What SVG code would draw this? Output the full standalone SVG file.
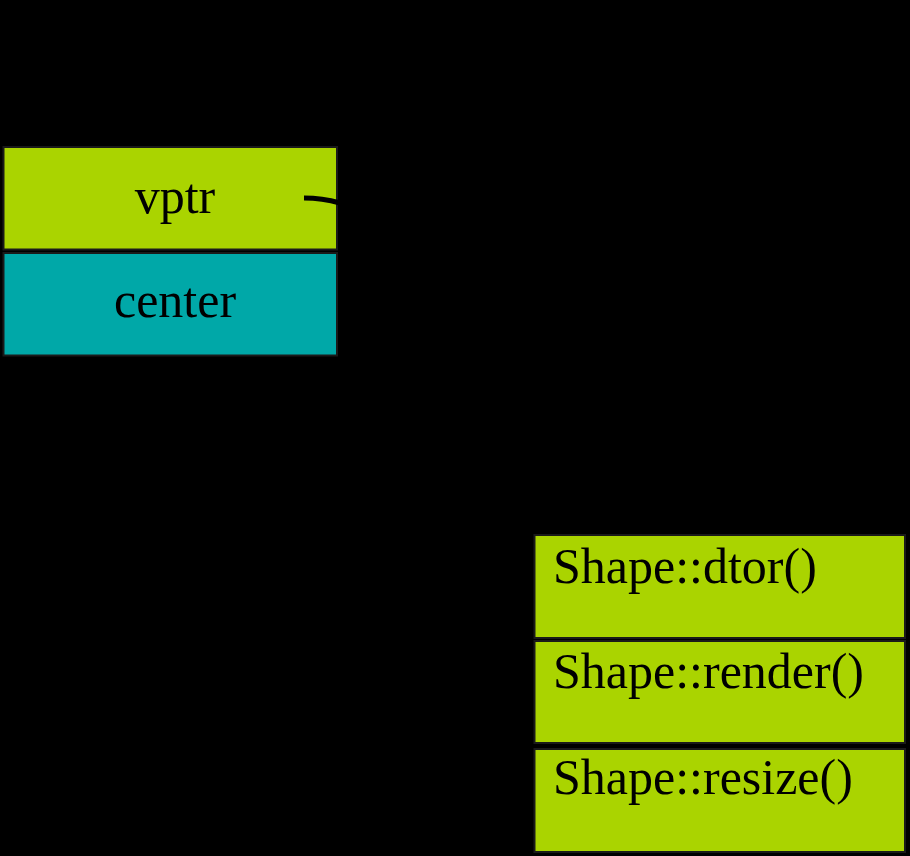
<svg xmlns="http://www.w3.org/2000/svg" width="910" height="856" viewBox="0 0 910 856">
<style>
.g{fill:#aad400;stroke:#1a1a1a;stroke-width:2}
.t{fill:#00a8a8;stroke:#1a1a1a;stroke-width:2}
text{font-family:"Liberation Serif","Times New Roman",serif;font-size:50px;fill:#000}
.c{text-anchor:middle}
</style>
<rect width="910" height="856" fill="#000"/>
<g id="vptr"><rect class="g" x="3.5" y="147" width="333.5" height="102.5"/><text class="c" x="175" y="213">vptr</text></g>
<g id="center"><rect class="t" x="3.5" y="253" width="333.5" height="102.5"/><text class="c" x="175" y="317">center</text></g>
<g id="dtor"><rect class="g" x="534.5" y="535" width="370.5" height="103"/><text x="553" y="583">Shape::dtor()</text></g>
<g id="render"><rect class="g" x="534.5" y="641" width="370.5" height="102"/><text x="553" y="688">Shape::render()</text></g>
<g id="resize"><rect class="g" x="534.5" y="749" width="370.5" height="103"/><text x="553" y="794">Shape::resize()</text></g>
<g id="connectors"><path d="M304 198 Q322 198 340 203 Q420 230 520 560" fill="none" stroke="#000" stroke-width="5"/></g>
</svg>
